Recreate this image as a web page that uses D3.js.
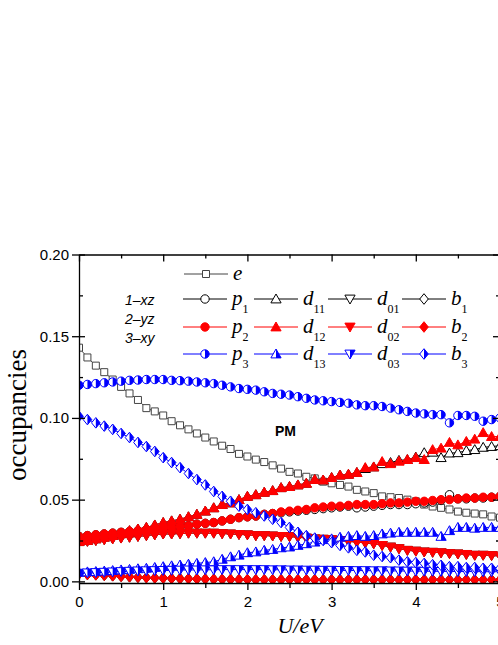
<!DOCTYPE html>
<meta charset="utf-8">
<head>
  <style>
    body { margin: 0; background: #fff; }
    .tick text { font-family: "Liberation Sans", Arial, sans-serif; font-size: 15px; fill: #000; }
    .axis path, .axis line { stroke: #000; stroke-width: 1.3px; }
    .leg { font-family: "Liberation Serif", "Times New Roman", serif; font-style: italic; font-size: 21px; }
    .sub { font-style: normal; font-size: 12px; }
  </style>
</head>
<body>
<svg id="chart" width="498" height="645"></svg>
<script src="https://d3js.org/d3.v7.min.js"></script>
<script>

var U = [0.0,0.1,0.2,0.3,0.4,0.5,0.6,0.7,0.8,0.9,1.0,
         1.1,1.2,1.3,1.4,1.5,1.6,1.7,1.8,1.9,2.0,
         2.1,2.2,2.3,2.4,2.5,2.6,2.7,2.8,2.9,3.0,
         3.1,3.2,3.3,3.4,3.5,3.6,3.7,3.8,3.9,4.0,
         4.1,4.2,4.3,4.4,4.5,4.6,4.7,4.8,4.9,5.0];

var e = [0.143,0.137,0.132,0.128,0.1235,0.119,0.115,0.111,0.106,0.104,0.1015,
         0.098,0.0955,0.093,0.0905,0.088,0.0856,0.083,0.081,0.078,0.0764,
         0.0745,0.073,0.071,0.069,0.067,0.066,0.064,0.063,0.061,0.060,
         0.059,0.058,0.056,0.055,0.054,0.052,0.0515,0.051,0.050,0.049,
         0.047,0.0458,0.045,0.044,0.0427,0.042,0.0415,0.041,0.0397,0.039];

var p1 = [0.0275,0.028,0.0285,0.029,0.0295,0.030,0.0305,0.031,0.0315,0.032,0.0325,
          0.033,0.0335,0.034,0.035,0.0355,0.036,0.037,0.038,0.039,0.0395,
          0.040,0.041,0.0415,0.042,0.0425,0.043,0.0435,0.044,0.0445,0.045,
          0.0455,0.046,0.045,0.0455,0.046,0.0465,0.047,0.047,0.047,0.0475,
          0.048,0.0485,0.0495,0.053,0.0505,0.0505,0.051,0.051,0.0515,0.052];
var p2 = [0.0275,0.028,0.0285,0.029,0.0295,0.030,0.0305,0.031,0.0315,0.032,0.0325,
          0.033,0.0335,0.034,0.035,0.0355,0.036,0.037,0.038,0.039,0.0395,
          0.040,0.041,0.0415,0.0425,0.043,0.0435,0.044,0.045,0.0455,0.046,
          0.046,0.0465,0.047,0.047,0.047,0.0475,0.048,0.048,0.0485,0.049,
          0.049,0.0495,0.050,0.050,0.0505,0.051,0.051,0.0515,0.0515,0.052];
var p3 = [0.120,0.1205,0.121,0.1215,0.122,0.1225,0.123,0.1232,0.1235,0.1235,0.1235,
          0.123,0.1228,0.1225,0.122,0.1215,0.121,0.120,0.119,0.118,0.1175,
          0.117,0.116,0.115,0.1145,0.114,0.113,0.112,0.111,0.1105,0.110,
          0.1095,0.109,0.108,0.1075,0.1075,0.107,0.106,0.105,0.104,0.103,
          0.1025,0.102,0.102,0.097,0.1015,0.1015,0.101,0.098,0.099,0.100];

var d11 = [0.0243,0.025,0.026,0.027,0.028,0.0295,0.031,0.032,0.033,0.0345,0.036,
           0.037,0.038,0.0395,0.041,0.043,0.045,0.047,0.048,0.050,0.052,
           0.053,0.0545,0.0555,0.0573,0.058,0.059,0.060,0.0623,0.062,0.0635,
           0.065,0.0655,0.0666,0.0690,0.070,0.072,0.0727,0.074,0.0745,0.076,
           0.0787,0.079,0.0757,0.0785,0.0787,0.080,0.0806,0.082,0.0825,0.083];
var d12 = [0.0243,0.025,0.026,0.027,0.028,0.0295,0.031,0.032,0.033,0.0345,0.036,
           0.037,0.038,0.0395,0.041,0.043,0.045,0.047,0.048,0.050,0.052,
           0.053,0.0545,0.0555,0.0573,0.058,0.059,0.060,0.0623,0.062,0.0635,
           0.065,0.0655,0.0666,0.0696,0.070,0.0733,0.072,0.0735,0.0745,0.0757,
           0.0745,0.0806,0.0815,0.085,0.0835,0.0856,0.087,0.091,0.0886,0.0886];
var d13 = [0.0055,0.0058,0.006,0.0063,0.0066,0.007,0.0073,0.0077,0.008,0.0085,0.009,
           0.0095,0.010,0.0105,0.011,0.0115,0.012,0.0135,0.015,0.016,0.0175,
           0.018,0.019,0.0195,0.0205,0.021,0.022,0.023,0.024,0.0255,0.026,
           0.027,0.0275,0.028,0.0275,0.028,0.029,0.0295,0.030,0.030,0.030,
           0.030,0.030,0.0275,0.031,0.033,0.033,0.0325,0.033,0.033,0.033];

var d01 = [0.024,0.0245,0.025,0.0255,0.026,0.0265,0.027,0.0275,0.028,0.0285,0.029,
           0.029,0.0292,0.0295,0.0295,0.0295,0.0295,0.0292,0.029,0.0287,0.0285,
           0.028,0.028,0.0278,0.0275,0.0274,0.027,0.0265,0.026,0.0258,0.0255,
           0.025,0.0245,0.024,0.0235,0.023,0.022,0.021,0.020,0.019,0.0185,
           0.018,0.0178,0.0175,0.017,0.0168,0.0165,0.016,0.016,0.0158,0.0155];
var d02 = [0.024,0.0245,0.025,0.0255,0.026,0.0265,0.027,0.0275,0.028,0.0285,0.029,
           0.029,0.0292,0.0295,0.0295,0.0295,0.0295,0.0292,0.029,0.0287,0.0285,
           0.028,0.028,0.0278,0.0275,0.0274,0.027,0.0265,0.026,0.0258,0.0255,
           0.025,0.0245,0.024,0.0235,0.023,0.022,0.021,0.020,0.019,0.0185,
           0.018,0.0178,0.0175,0.017,0.0168,0.0165,0.016,0.016,0.0158,0.0155];
var d03 = [0.005,0.0052,0.0054,0.0056,0.0058,0.006,0.0062,0.0064,0.0065,0.0066,0.0067,
           0.0068,0.0069,0.007,0.007,0.0071,0.0071,0.0072,0.0072,0.0072,0.0072,
           0.0072,0.0072,0.0071,0.0071,0.007,0.007,0.0069,0.0069,0.0068,0.0068,
           0.0067,0.0067,0.0066,0.0066,0.0065,0.0065,0.0064,0.0064,0.0063,0.0063,
           0.0062,0.0062,0.0061,0.0061,0.006,0.006,0.006,0.0059,0.0059,0.0059];

var b1 = [0.0045,0.0042,0.004,0.0037,0.0034,0.0031,0.0028,0.0025,0.0023,0.0021,0.002,
          0.0018,0.0017,0.0016,0.0015,0.0014,0.0013,0.0012,0.0012,0.0011,0.0011,
          0.001,0.001,0.001,0.001,0.001,0.001,0.001,0.001,0.001,0.001,
          0.001,0.001,0.001,0.001,0.001,0.001,0.001,0.001,0.001,0.001,
          0.001,0.001,0.001,0.001,0.001,0.001,0.001,0.001,0.001,0.001];
var b2 = [0.0045,0.0042,0.004,0.0037,0.0034,0.0031,0.0028,0.0025,0.0023,0.0021,0.002,
          0.0018,0.0017,0.0016,0.0015,0.0014,0.0013,0.0012,0.0012,0.0011,0.0011,
          0.001,0.001,0.001,0.001,0.001,0.001,0.001,0.001,0.001,0.001,
          0.001,0.001,0.001,0.001,0.001,0.001,0.001,0.001,0.001,0.001,
          0.001,0.001,0.001,0.001,0.001,0.001,0.001,0.001,0.001,0.001];
var b3 = [0.101,0.099,0.097,0.095,0.093,0.0905,0.088,0.085,0.0825,0.0795,0.0757,
          0.0727,0.0696,0.066,0.0623,0.059,0.055,0.052,0.049,0.046,0.044,
          0.042,0.040,0.038,0.036,0.033,0.030,0.028,0.0265,0.025,0.0237,
          0.022,0.0205,0.019,0.018,0.016,0.0152,0.0145,0.013,0.012,0.0115,
          0.011,0.0102,0.0098,0.009,0.009,0.0085,0.0085,0.008,0.008,0.008];

var xTicks = [0,0.5,1,1.5,2,2.5,3,3.5,4,4.5,5];
var yTicks = [0,0.025,0.05,0.075,0.1,0.125,0.15,0.175,0.2];
var orbitalNotes = ["1\u2013xz", "2\u2013yz", "3\u2013xy"];

// series styles (legend row / column and drawing order)
var series = [
  { key: "e",   data: e,   base: "e", sub: "",   color: "#444", shape: "square",  fill: "none", row: 0, col: 0 },
  { key: "p1",  data: p1,  base: "p", sub: "1",  color: "#000", shape: "circle",  fill: "none", row: 1, col: 0 },
  { key: "d11", data: d11, base: "d", sub: "11", color: "#000", shape: "up",      fill: "none", row: 1, col: 1 },
  { key: "d01", data: d01, base: "d", sub: "01", color: "#000", shape: "down",    fill: "none", row: 1, col: 2 },
  { key: "b1",  data: b1,  base: "b", sub: "1",  color: "#000", shape: "diamond", fill: "none", row: 1, col: 3 },
  { key: "p2",  data: p2,  base: "p", sub: "2",  color: "#f00", shape: "circle",  fill: "full", row: 2, col: 0 },
  { key: "d12", data: d12, base: "d", sub: "12", color: "#f00", shape: "up",      fill: "full", row: 2, col: 1 },
  { key: "d02", data: d02, base: "d", sub: "02", color: "#f00", shape: "down",    fill: "full", row: 2, col: 2 },
  { key: "b2",  data: b2,  base: "b", sub: "2",  color: "#f00", shape: "diamond", fill: "full", row: 2, col: 3 },
  { key: "p3",  data: p3,  base: "p", sub: "3",  color: "#00f", shape: "circle",  fill: "half", row: 3, col: 0 },
  { key: "d13", data: d13, base: "d", sub: "13", color: "#00f", shape: "up",      fill: "half", row: 3, col: 1 },
  { key: "d03", data: d03, base: "d", sub: "03", color: "#00f", shape: "down",    fill: "half", row: 3, col: 2 },
  { key: "b3",  data: b3,  base: "b", sub: "3",  color: "#00f", shape: "diamond", fill: "half", row: 3, col: 3 }
];

var svg = d3.select("#chart");
var plotL = 79, plotR = 500, plotT = 254.5, plotB = 583;

var x = d3.scaleLinear().domain([0, 5]).range([plotL, plotR]);
var y = d3.scaleLinear().domain([-0.001, 0.2]).range([plotB, plotT]);

function isMajorX(d) { return Math.abs(d - Math.round(d)) < 1e-9; }
function isMajorY(d) { return Math.abs(d / 0.05 - Math.round(d / 0.05)) < 1e-9; }

// marker outlines, full and right half
function shapePath(shape, half) {
  var p = d3.path();
  if (shape == "circle") {
    var r = 4.2;
    if (half) { p.moveTo(0, -r); p.arc(0, 0, r, -Math.PI / 2, Math.PI / 2); p.closePath(); }
    else { p.moveTo(r, 0); p.arc(0, 0, r, 0, 2 * Math.PI); p.closePath(); }
  } else if (shape == "square") {
    var s = 3.5;
    if (half) { p.rect(0, -s, s, 2 * s); } else { p.rect(-s, -s, 2 * s, 2 * s); }
  } else if (shape == "up") {
    if (half) { p.moveTo(0, -5); p.lineTo(5.1, 3.9); p.lineTo(0, 3.9); }
    else { p.moveTo(0, -5); p.lineTo(5.1, 3.9); p.lineTo(-5.1, 3.9); }
    p.closePath();
  } else if (shape == "down") {
    if (half) { p.moveTo(0, 5); p.lineTo(5.1, -3.9); p.lineTo(0, -3.9); }
    else { p.moveTo(0, 5); p.lineTo(5.1, -3.9); p.lineTo(-5.1, -3.9); }
    p.closePath();
  } else if (shape == "diamond") {
    if (half) { p.moveTo(0, -5.3); p.lineTo(4.3, 0); p.lineTo(0, 5.3); }
    else { p.moveTo(0, -5.3); p.lineTo(4.3, 0); p.lineTo(0, 5.3); p.lineTo(-4.3, 0); }
    p.closePath();
  }
  return p.toString();
}

function drawMarker(g, s) {
  g.append("path")
    .attr("d", shapePath(s.shape, false))
    .attr("fill", s.fill == "full" ? s.color : "#fff")
    .attr("stroke", s.color)
    .attr("stroke-width", 1);
  if (s.fill == "half") {
    g.append("path")
      .attr("d", shapePath(s.shape, true))
      .attr("fill", s.color);
  }
}

svg.append("clipPath").attr("id", "plotclip")
  .append("rect").attr("x", plotL).attr("y", plotT).attr("width", plotR - plotL).attr("height", plotB - plotT);

var plot = svg.append("g").attr("clip-path", "url(#plotclip)");

var line = d3.line()
  .x(function(d, i) { return x(U[i]); })
  .y(function(d) { return y(d); });

series.forEach(function(s) {
  var g = plot.append("g").attr("class", "series " + s.key);
  g.append("path")
    .attr("d", line(s.data))
    .attr("fill", "none")
    .attr("stroke", s.color)
    .attr("stroke-width", 1);
  s.data.forEach(function(v, i) {
    var m = g.append("g").attr("transform", "translate(" + x(U[i]) + "," + y(v) + ")");
    drawMarker(m, s);
  });
});

// axes
var bottomAxis = svg.append("g").attr("class", "axis")
  .attr("transform", "translate(0," + plotB + ")")
  .call(d3.axisBottom(x).tickValues(xTicks).tickSize(7).tickSizeOuter(0).tickPadding(6)
    .tickFormat(function(d) { return isMajorX(d) ? d3.format("d")(d) : ""; }));
bottomAxis.selectAll(".tick line").attr("y2", function(d) { return isMajorX(d) ? 7 : 5; });

var topAxis = svg.append("g").attr("class", "axis")
  .attr("transform", "translate(0," + plotT + ")")
  .call(d3.axisTop(x).tickValues(xTicks).tickSize(-7).tickSizeOuter(0).tickFormat(""));
topAxis.selectAll(".tick line").attr("y2", function(d) { return isMajorX(d) ? 7 : 4; });

var leftAxis = svg.append("g").attr("class", "axis")
  .attr("transform", "translate(" + plotL + ",0)")
  .call(d3.axisLeft(y).tickValues(yTicks).tickSize(7).tickSizeOuter(0).tickPadding(3)
    .tickFormat(function(d) { return isMajorY(d) ? d3.format(".2f")(d) : ""; }));
leftAxis.selectAll(".tick line")
  .attr("x1", function(d) { return isMajorY(d) ? 6 : 4; })
  .attr("x2", function(d) { return isMajorY(d) ? -7 : 0; });

var rightAxis = svg.append("g").attr("class", "axis")
  .attr("transform", "translate(" + plotR + ",0)")
  .call(d3.axisRight(y).tickValues(yTicks).tickSize(-7).tickSizeOuter(0).tickFormat(""));
rightAxis.selectAll(".tick line").attr("x2", function(d) { return isMajorY(d) ? -7 : -4; });

// axis titles
svg.append("text")
  .attr("transform", "translate(26,415) rotate(-90)")
  .attr("text-anchor", "middle")
  .style("font-family", "'Liberation Serif', 'Times New Roman', serif")
  .style("font-size", "27px")
  .text("occupancies");

svg.append("text")
  .attr("x", 300).attr("y", 633)
  .attr("text-anchor", "middle")
  .style("font-family", "'Liberation Serif', 'Times New Roman', serif")
  .style("font-style", "italic")
  .style("font-size", "22px")
  .text("U/eV");

// legend
var legRowY = [274, 299, 327, 354];
var legColX = [205, 276, 350, 424];
var legend = svg.append("g");
series.forEach(function(s) {
  var cx = legColX[s.col], cy = legRowY[s.row];
  if (s.row == 0) cx = 206;
  legend.append("line")
    .attr("x1", cx - 22).attr("x2", cx + 22)
    .attr("y1", cy).attr("y2", cy)
    .attr("stroke", s.color).attr("stroke-width", 1);
  var m = legend.append("g").attr("transform", "translate(" + cx + "," + cy + ")");
  drawMarker(m, s);
  var t = legend.append("text").attr("class", "leg")
    .attr("x", cx + 27).attr("y", cy + 6);
  t.append("tspan").text(s.base);
  if (s.sub) t.append("tspan").attr("class", "sub").attr("dy", 8).text(s.sub);
});

orbitalNotes.forEach(function(n, i) {
  svg.append("text")
    .attr("x", 125).attr("y", [305, 324, 343][i])
    .style("font-family", "'Liberation Sans', Arial, sans-serif")
    .style("font-style", "italic")
    .style("font-size", "14px")
    .text(n);
});

svg.append("text")
  .attr("x", 275).attr("y", 436)
  .style("font-family", "'Liberation Sans', Arial, sans-serif")
  .style("font-weight", "bold")
  .style("font-size", "14px")
  .text("PM");

</script>
</body>
